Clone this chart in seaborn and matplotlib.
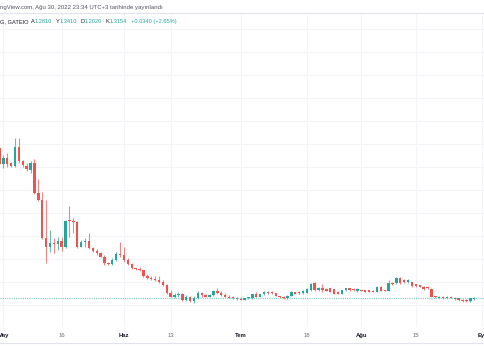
import matplotlib
matplotlib.use("Agg")
import matplotlib.pyplot as plt
import matplotlib.dates as mdates
from matplotlib.lines import Line2D
import seaborn as sns
import pandas as pd

# daily candles, 30 Apr 2022 .. 30 Aug 2022 (GATEIO)
start_date = "2022-04-30"

opens = [7.81, 7.13, 7.38, 7.16, 7.06, 7.88, 7.26, 7.06, 6.87, 7.16,
         5.86, 5.57, 3.90, 3.53, 3.68, 3.66, 3.78, 3.53, 4.67, 4.65,
         4.63, 3.53, 3.75, 3.80, 3.47, 3.36, 3.25, 3.10, 2.81, 2.79,
         2.96, 3.20, 3.17, 2.96, 2.77, 2.60, 2.57, 2.50, 2.27, 2.16,
         2.11, 2.09, 2.00, 1.87, 1.53, 1.36, 1.43, 1.47, 1.22, 1.36,
         1.17, 1.32, 1.51, 1.43, 1.36, 1.43, 1.61, 1.51, 1.43, 1.36,
         1.32, 1.29, 1.26, 1.23, 1.29, 1.32, 1.48, 1.36, 1.47, 1.58,
         1.55, 1.51, 1.40, 1.33, 1.29, 1.39, 1.55, 1.58, 1.51, 1.54,
         1.65, 1.94, 1.65, 1.73, 1.70, 1.73, 1.68, 1.58, 1.48, 1.65,
         1.73, 1.70, 1.61, 1.65, 1.65, 1.65, 1.62, 1.58, 1.80, 1.65,
         1.62, 1.97, 1.94, 2.16, 2.09, 1.99, 1.99, 1.90, 1.87, 1.80,
         1.80, 1.70, 1.36, 1.32, 1.36, 1.32, 1.36, 1.32, 1.29, 1.22,
         1.22, 1.17, 1.2810]

highs = [7.91, 7.52, 7.62, 7.23, 8.25, 8.25, 7.30, 7.16, 7.26, 7.33,
         6.47, 5.93, 5.57, 4.26, 3.90, 3.97, 3.97, 4.70, 5.30, 4.77,
         4.67, 3.83, 3.90, 4.12, 3.52, 3.42, 3.32, 3.17, 2.87, 3.06,
         3.32, 3.73, 3.53, 3.04, 2.83, 2.63, 2.65, 2.52, 2.35, 2.26,
         2.26, 2.26, 2.09, 1.91, 1.65, 1.51, 1.55, 1.52, 1.43, 1.39,
         1.37, 1.61, 1.58, 1.50, 1.48, 1.65, 1.73, 1.63, 1.54, 1.43,
         1.39, 1.35, 1.33, 1.32, 1.35, 1.50, 1.57, 1.50, 1.63, 1.62,
         1.61, 1.54, 1.41, 1.37, 1.43, 1.59, 1.57, 1.61, 1.65, 1.74,
         1.96, 1.99, 1.78, 1.91, 1.72, 1.76, 1.70, 1.61, 1.67, 1.76,
         1.76, 1.72, 1.75, 1.67, 1.67, 1.67, 1.65, 1.83, 1.83, 1.67,
         2.09, 2.00, 2.20, 2.20, 2.11, 2.11, 2.01, 1.91, 1.89, 1.83,
         1.83, 1.73, 1.41, 1.39, 1.41, 1.39, 1.39, 1.35, 1.32, 1.24,
         1.24, 1.32, 1.3410]

lows = [7.04, 6.97, 7.01, 7.01, 7.01, 7.16, 7.00, 6.84, 6.73, 5.84,
        5.54, 3.89, 2.81, 3.32, 3.27, 3.39, 3.36, 3.47, 3.97, 4.12,
        3.47, 3.52, 3.53, 3.42, 3.30, 3.19, 3.07, 2.74, 2.74, 2.74,
        2.93, 3.10, 2.88, 2.74, 2.57, 2.52, 2.48, 2.23, 2.13, 2.09,
        2.04, 1.96, 1.83, 1.50, 1.33, 1.29, 1.35, 1.17, 1.17, 1.13,
        1.09, 1.26, 1.36, 1.33, 1.33, 1.37, 1.47, 1.39, 1.33, 1.29,
        1.26, 1.23, 1.20, 1.22, 1.24, 1.26, 1.33, 1.35, 1.43, 1.50,
        1.48, 1.38, 1.30, 1.26, 1.26, 1.38, 1.46, 1.48, 1.48, 1.52,
        1.62, 1.63, 1.63, 1.57, 1.59, 1.57, 1.46, 1.46, 1.46, 1.63,
        1.63, 1.63, 1.55, 1.59, 1.57, 1.57, 1.57, 1.57, 1.61, 1.59,
        1.62, 1.87, 1.90, 1.91, 1.97, 1.96, 1.80, 1.80, 1.78, 1.65,
        1.70, 1.33, 1.30, 1.29, 1.26, 1.29, 1.29, 1.22, 1.19, 1.15,
        1.15, 1.15, 1.2020]

closes = [7.13, 7.38, 7.13, 7.06, 7.88, 7.26, 7.07, 6.90, 7.16, 5.86,
          5.57, 3.90, 3.53, 3.68, 3.66, 3.78, 3.53, 4.67, 4.65, 4.63,
          3.53, 3.75, 3.80, 3.47, 3.36, 3.25, 3.10, 2.81, 2.79, 2.96,
          3.20, 3.17, 2.96, 2.77, 2.60, 2.57, 2.50, 2.27, 2.16, 2.11,
          2.09, 2.00, 1.87, 1.53, 1.36, 1.43, 1.47, 1.22, 1.36, 1.17,
          1.32, 1.51, 1.43, 1.36, 1.43, 1.61, 1.51, 1.43, 1.36, 1.32,
          1.29, 1.26, 1.23, 1.29, 1.32, 1.48, 1.36, 1.47, 1.58, 1.53,
          1.51, 1.40, 1.33, 1.29, 1.39, 1.55, 1.50, 1.51, 1.61, 1.68,
          1.90, 1.65, 1.75, 1.65, 1.61, 1.58, 1.48, 1.48, 1.65, 1.73,
          1.65, 1.65, 1.70, 1.61, 1.58, 1.58, 1.58, 1.80, 1.62, 1.61,
          1.94, 1.90, 2.16, 1.94, 1.99, 2.09, 1.83, 1.83, 1.80, 1.68,
          1.73, 1.36, 1.33, 1.36, 1.29, 1.36, 1.32, 1.24, 1.22, 1.17,
          1.17, 1.29, 1.3154]

tick_dates = ["2022-05-01", "2022-05-16", "2022-06-01", "2022-06-13", "2022-07-01",
              "2022-07-18", "2022-08-01", "2022-08-15", "2022-09-01"]
tick_labels = ["May", "16", "Haz", "13", "Tem", "18", "Ağu", "15", "Eyl"]
month_labels = ["May", "Haz", "Tem", "Ağu", "Eyl"]

header = "ngView.com, Ağu 30, 2022 23:34 UTC+3 tarihinde yayınlandı"
legend_parts = [("G, GATEIO", 0), ("A", 30.5), ("1.2810", 34.5), ("Y", 55.5), ("1.3410", 59.5),
                ("D", 80.5), ("1.2020", 84.5), ("K", 105.5), ("1.3154", 109.5),
                ("+0.0340 (+2.65%)", 131)]

UP = "#26a69a"
DOWN = "#ef5350"
DARK = "#131722"

sns.set_theme(style="white")
plt.rcParams["font.family"] = ["Liberation Sans", "DejaVu Sans"]

df = pd.DataFrame({"open": opens, "high": highs, "low": lows, "close": closes})
df["date"] = pd.date_range(start_date, periods=len(df), freq="D")
df["x"] = mdates.date2num(df["date"])
df["up"] = df["close"] >= df["open"]
df["bottom"] = df[["open", "close"]].min(axis=1)
df["body"] = (df["close"] - df["open"]).abs().clip(lower=0.04)
colors = [UP if u else DOWN for u in df["up"]]

W, H = 485, 360
fig = plt.figure(figsize=(W / 100, H / 100), dpi=100)
ax = fig.add_axes([0, 33 / H, 1, 313 / H])

# wicks + bodies
ax.vlines(df["x"], df["low"], df["high"], colors=colors, linewidth=0.8, alpha=0.7)
ax.bar(df["x"], df["body"], bottom=df["bottom"], width=0.62, color=colors, linewidth=0)

# last price line
ax.axhline(closes[-1], color=UP, linestyle=(0, (1, 1)), linewidth=0.8, alpha=0.6)

may1 = mdates.date2num(pd.Timestamp("2022-05-01"))
ax.set_xlim(may1 - 0.85, may1 + 123.77)
ax.set_ylim(0.0435, 13.652)

ax.set_yticks(range(1, 14))
ax.set_xticks(mdates.date2num(pd.to_datetime(tick_dates)))
ax.set_xticklabels(tick_labels)
ax.grid(True, color="#f3f4f7", linewidth=0.8)
ax.tick_params(axis="y", left=False, labelleft=False)
ax.tick_params(axis="x", length=0, pad=4.5, labelsize=4.2, colors="#6a6d78")
for lab in ax.get_xticklabels():
    if lab.get_text() in month_labels:
        lab.set_color(DARK)
        lab.set_fontweight("bold")
for s in ax.spines.values():
    s.set_visible(False)

# header
fig.text(0, 1 - 7 / H, header, fontsize=4.3, color="#50535e", va="center", ha="left")
fig.add_artist(Line2D([0, 1], [1 - 13.3 / H] * 2, color="#e0e3eb", linewidth=0.8))
for txt, px in legend_parts:
    col = DARK if not any(ch.isdigit() for ch in txt) else UP
    fig.text(px / W, 1 - 21.5 / H, txt, fontsize=4.1, color=col, va="center", ha="left")
fig.add_artist(Line2D([0, 1], [1 - 342.7 / H] * 2, color="#e0e3eb", linewidth=0.8))

fig.savefig("out.png", dpi=100, facecolor="white")
